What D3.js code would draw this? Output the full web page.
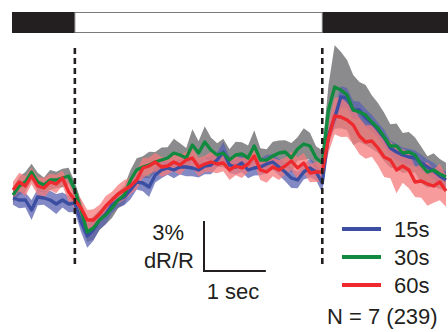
<!DOCTYPE html>
<html><head><meta charset="utf-8">
<script src="https://cdn.jsdelivr.net/npm/d3@7"></script>
<style>html,body{margin:0;padding:0;background:#fff;}svg{display:block;font-family:"Liberation Sans",Arial,sans-serif;}</style>
</head><body>
<script>
// time (s) from -1.0 to 6.0 in 0.1 s steps; stimulus on at 0, off at 4
const tStart = -1.0, tStep = 0.1;
const stimOn = 0, stimOff = 4;
const seriesNames = ["15s", "30s", "60s"];
// mean dR/R (%)
const mean15 = [-0.48,-0.6,-0.6,-1.2,-0.42,-0.48,-0.6,-0.84,-0.6,-0.84,-0.78,-1.92,-2.76,-2.4,-1.8,-1.44,-0.9,-0.6,-0.42,0,0.48,0.42,0.18,0.9,1.2,1.32,1.2,1.38,1.38,1.32,1.2,1.44,1.5,1.8,2.28,1.5,1.38,1.62,1.2,1.32,1.38,1.56,1.68,1.38,1.08,0.72,0.6,1.08,1.32,1.08,0.42,3.3,4.32,5.58,5.52,4.8,4.8,4.32,4.02,3.6,3.12,2.52,2.28,2.1,1.98,1.92,1.62,1.38,1.14,0.84,0.6];
const mean30 = [-0.3,0.24,0.48,1.08,0.48,0.3,0.6,0.6,0.72,0.84,0,-1.2,-2.52,-2.28,-1.8,-1.5,-1.08,-0.6,-0.3,0.6,1.2,1.38,1.5,1.68,1.8,1.92,2.22,2.1,1.92,2.7,2.22,2.88,2.4,2.1,2.22,1.8,2.1,2.16,1.92,2.64,1.8,1.8,2.04,2.22,2.28,1.92,2.46,2.76,2.64,1.92,1.62,4.8,6.18,6.0,5.7,4.8,4.68,4.5,4.08,3.72,3.18,2.64,2.64,2.22,2.28,2.1,1.5,1.08,1.2,0.96,0.78];
const mean60 = [0,0.48,0.24,0.84,0.24,0.12,0.48,0.36,0.72,-0.12,-0.6,-1.08,-1.8,-1.8,-1.44,-0.96,-0.6,-0.24,0,0.24,0.6,1.32,1.44,1.68,1.38,1.44,1.68,1.5,1.8,1.92,1.38,1.56,1.68,1.56,1.62,1.2,1.44,1.32,1.56,2.04,1.2,1.08,1.38,1.2,1.44,1.74,1.32,1.62,1.02,1.08,1.08,3.12,4.44,4.38,4.2,3.9,3.24,2.88,2.94,2.52,1.98,1.8,1.2,1.44,1.2,0.48,0.54,0.36,0.24,0.48,-0.06];
// s.e.m. (%)
const sem15 = [0.4,0.5,0.45,0.6,0.5,0.4,0.55,0.6,0.45,0.5,0.55,0.6,0.7,0.65,0.55,0.6,0.5,0.45,0.5,0.55,0.45,0.5,0.6,0.45,0.5,0.4,0.5,0.45,0.55,0.5,0.45,0.5,0.55,0.45,0.6,0.5,0.45,0.55,0.5,0.45,0.5,0.55,0.45,0.5,0.55,0.6,0.5,0.45,0.55,0.5,0.6,0.55,0.6,0.65,0.6,0.55,0.5,0.55,0.5,0.45,0.5,0.45,0.5,0.45,0.5,0.45,0.5,0.45,0.5,0.45,0.5];
const sem30 = [0.45,0.55,0.6,0.5,0.55,0.45,0.6,0.5,0.55,0.5,0.45,0.55,0.6,0.7,0.6,0.55,0.6,0.5,0.55,0.6,0.7,0.65,0.8,0.6,0.75,0.65,0.85,0.7,0.6,0.95,0.7,0.95,0.75,0.7,0.85,0.65,0.8,0.7,0.75,0.95,0.7,0.65,0.85,0.75,0.7,0.9,0.7,0.95,0.8,0.7,0.75,1.5,2.5,2.3,2.1,2.1,1.8,1.8,1.6,1.5,1.45,1.3,1.35,1.2,1.2,1.05,1.1,0.95,1.0,0.9,0.85];
const sem60 = [0.5,0.55,0.6,0.5,0.55,0.6,0.5,0.55,0.45,0.6,0.5,0.55,0.6,0.65,0.55,0.6,0.5,0.55,0.6,0.5,0.55,0.6,0.5,0.55,0.6,0.5,0.55,0.6,0.5,0.6,0.55,0.5,0.6,0.55,0.5,0.6,0.55,0.6,0.5,0.55,0.6,0.65,0.55,0.6,0.5,0.55,0.65,0.6,0.55,0.6,0.6,0.9,1.1,1.2,1.0,1.15,1.1,1.0,0.95,1.05,1.2,1.1,1.4,1.0,1.1,0.9,1.0,1.3,1.0,1.1,0.95];
const lineColors = ["#3b4ea1", "#108a3f", "#ee2a2e"];
const bandColors = ["#5a62b0", "#8b8b8d", "#f47a7c"];
const scaleBarY = 3, scaleBarX = 1;

const W = 448, H = 332;
const svg = d3.select("body").append("svg").attr("width", W).attr("height", H);
const x = d3.scaleLinear().domain([-1, 6]).range([13, 446]);
const y = d3.scaleLinear().domain([-3, 9]).range([240, 40]);

svg.append("clipPath").attr("id","c").append("rect").attr("x",12).attr("y",0).attr("width",W-12).attr("height",H);

// top stimulus bar
svg.append("rect").attr("x", 12).attr("y", 12).attr("width", W - 12).attr("height", 21).attr("fill", "#231f20");
svg.append("rect").attr("x", x(stimOn)).attr("y", 12.5).attr("width", x(stimOff) - x(stimOn)).attr("height", 20)
  .attr("fill", "#fff").attr("stroke", "#7a7a7a").attr("stroke-width", 1);

const means = [mean15, mean30, mean60];
const sems = [sem15, sem30, sem60];
const tOf = i => tStart + i * tStep;

const g = svg.append("g").attr("clip-path", "url(#c)");
const area = d3.area().x((d, i) => x(tOf(i))).y0(d => y(d[0] - d[1])).y1(d => y(d[0] + d[1]));
const line = d3.line().x((d, i) => x(tOf(i))).y(d => y(d));

// bands: gray (30s) first, then blue, then red
[1, 0, 2].forEach(k => {
  const data = means[k].map((m, i) => [m, sems[k][i]]);
  g.append("path").datum(data).attr("d", area).attr("fill", bandColors[k])
    .attr("fill-opacity", k === 1 ? 1 : 0.75);
});
[0, 1, 2].forEach(k => {
  g.append("path").datum(means[k]).attr("d", line).attr("fill", "none")
    .attr("stroke", lineColors[k]).attr("stroke-width", 3.3).attr("stroke-linejoin", "round");
});

// dashed stimulus lines
[stimOn, stimOff].forEach(t => {
  svg.append("line").attr("x1", x(t)).attr("x2", x(t)).attr("y1", 48).attr("y2", 268)
    .attr("stroke", "#231f20").attr("stroke-width", 2.6).attr("stroke-dasharray", "6,4");
});

// scale bar
const sbx = 204, sby = 271;
svg.append("path")
  .attr("d", `M${sbx},${sby - (y(0) - y(scaleBarY))}V${sby}H${sbx + (x(scaleBarX) - x(0))}`)
  .attr("fill", "none").attr("stroke", "#231f20").attr("stroke-width", 2);
svg.append("text").attr("x", 184).attr("y", 240).attr("text-anchor", "end").attr("font-size", 22).attr("fill", "#231f20").text("3%");
svg.append("text").attr("x", 194).attr("y", 268).attr("text-anchor", "end").attr("font-size", 22).attr("fill", "#231f20").text("dR/R");
svg.append("text").attr("x", 233).attr("y", 299).attr("text-anchor", "middle").attr("font-size", 22).attr("fill", "#231f20").text("1 sec");

// legend
seriesNames.forEach((name, k) => {
  const ly = 229 + k * 28;
  svg.append("line").attr("x1", 342).attr("x2", 381).attr("y1", ly).attr("y2", ly)
    .attr("stroke", lineColors[k]).attr("stroke-width", 4);
  svg.append("text").attr("x", 394).attr("y", ly + 8).attr("font-size", 22).attr("fill", "#231f20").text(name);
});
svg.append("text").attr("x", 327).attr("y", 324).attr("font-size", 22).attr("fill", "#231f20").text("N = 7 (239)");
</script>
</body></html>
